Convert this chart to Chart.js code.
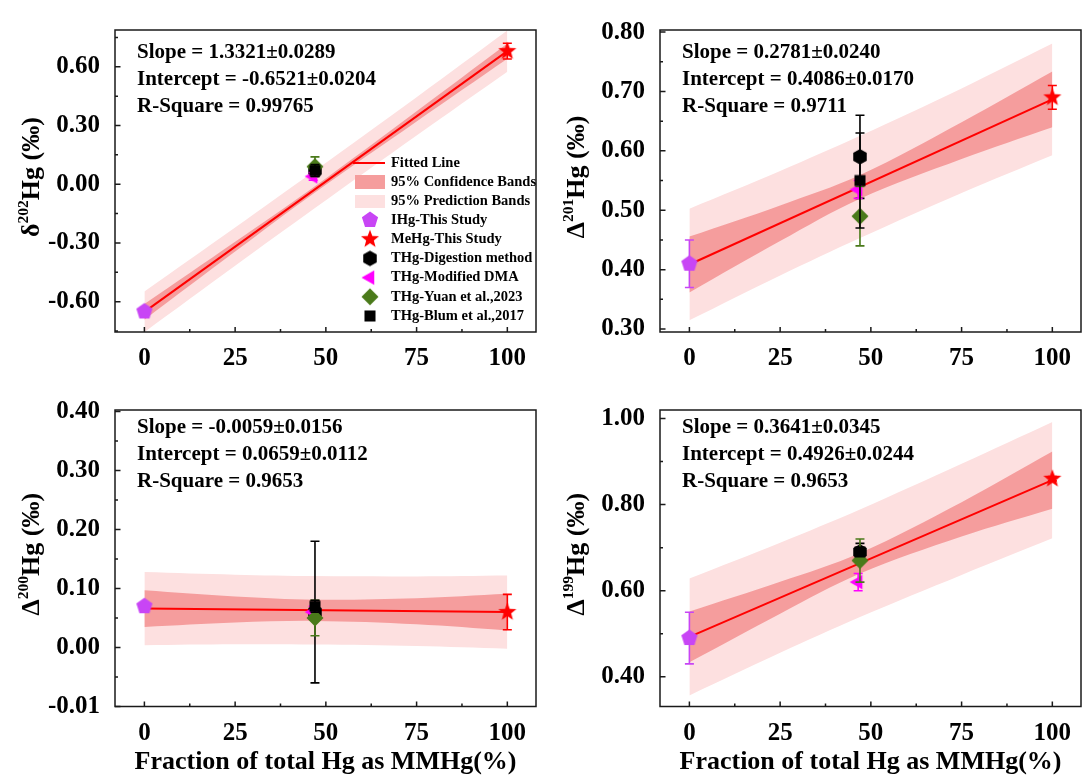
<!DOCTYPE html>
<html>
<head>
<meta charset="utf-8">
<script src="https://cdn.jsdelivr.net/npm/chart.js@4.4.1/dist/chart.umd.min.js"></script>
<style>
html, body { margin: 0; padding: 0; background: #fff; overflow: hidden; }
#wrap { position: relative; width: 1089px; height: 778px; overflow: hidden; }
canvas { position: absolute; }
</style>
</head>
<body>
<div id="wrap">
<canvas id="c202" width="545" height="380" style="left:0;top:0"></canvas>
<canvas id="c201" width="545" height="380" style="left:545px;top:0"></canvas>
<canvas id="c200" width="545" height="398" style="left:0;top:380px"></canvas>
<canvas id="c199" width="545" height="398" style="left:545px;top:380px"></canvas>
</div>
<script>
// shared
const seriesNames = ["IHg-This Study", "MeHg-This Study", "THg-Digestion method",
  "THg-Modified DMA", "THg-Yuan et al.,2023", "THg-Blum et al.,2017"];
const pointX = [0, 100, 47, 46.5, 47, 47];
const xTicks = [0, 25, 50, 75, 100];
const fitX = [0, 100];
const bandX = [0, 25, 47, 75, 100];

// delta 202
const d202Y = [-0.65, 0.68, 0.07, 0.04, 0.09, 0.07];
const d202Err = [0.02, 0.04, 0.03, 0.02, 0.05, 0.03];
const d202Fit = [-0.6521, 0.6800];
const d202ConfHi = [-0.612, -0.294, -0.010, 0.373, 0.719];
const d202ConfLo = [-0.692, -0.344, -0.042, 0.321, 0.641];
const d202PredHi = [-0.548, -0.221, 0.070, 0.445, 0.785];
const d202PredLo = [-0.756, -0.417, -0.122, 0.249, 0.575];
const d202Ticks = [-0.6, -0.3, 0, 0.3, 0.6];
const d202Labels = ["-0.60", "-0.30", "0.00", "0.30", "0.60"];
const d202Stats = ["Slope = 1.3321\u00b10.0289", "Intercept = -0.6521\u00b10.0204", "R-Square = 0.99765"];

// Delta 201
const D201Y = [0.41, 0.69, 0.59, 0.535, 0.49, 0.55];
const D201Err = [0.04, 0.02, 0.07, 0.015, 0.05, 0.08];
const D201Fit = [0.4086, 0.6867];
const D201ConfHi = [0.4556, 0.5081, 0.5593, 0.6482, 0.7337];
const D201ConfLo = [0.3616, 0.4481, 0.5193, 0.5862, 0.6397];
const D201PredHi = [0.5026, 0.5661, 0.6253, 0.7052, 0.7807];
const D201PredLo = [0.3146, 0.3901, 0.4533, 0.5292, 0.5927];
const D201Ticks = [0.3, 0.4, 0.5, 0.6, 0.7, 0.8];
const D201Labels = ["0.30", "0.40", "0.50", "0.60", "0.70", "0.80"];
const D201Stats = ["Slope = 0.2781\u00b10.0240", "Intercept = 0.4086\u00b10.0170", "R-Square = 0.9711"];

// Delta 200
const D200Y = [0.07, 0.06, 0.06, 0.06, 0.05, 0.07];
const D200Err = [0.005, 0.03, 0.12, 0.01, 0.03, 0.01];
const D200Fit = [0.0659, 0.0600];
const D200ConfHi = [0.0969, 0.0864, 0.0811, 0.0835, 0.0910];
const D200ConfLo = [0.0349, 0.0424, 0.0451, 0.0395, 0.0290];
const D200PredHi = [0.1279, 0.1234, 0.1211, 0.1205, 0.1220];
const D200PredLo = [0.0039, 0.0054, 0.0051, 0.0025, -0.0020];
const D200Ticks = [-0.1, 0, 0.1, 0.2, 0.3, 0.4];
const D200Labels = ["-0.01", "0.00", "0.10", "0.20", "0.30", "0.40"];
const D200Stats = ["Slope = -0.0059\u00b10.0156", "Intercept = 0.0659\u00b10.0112", "R-Square = 0.9653"];

// Delta 199
const D199Y = [0.49, 0.86, 0.69, 0.62, 0.67, 0.69];
const D199Err = [0.06, 0.005, 0.02, 0.02, 0.05, 0.01];
const D199Fit = [0.4926, 0.8567];
const D199ConfHi = [0.5516, 0.6206, 0.6877, 0.8057, 0.9232];
const D199ConfLo = [0.4336, 0.5466, 0.6397, 0.7257, 0.7902];
const D199PredHi = [0.6286, 0.7116, 0.7887, 0.8947, 0.9917];
const D199PredLo = [0.3566, 0.4556, 0.5387, 0.6367, 0.7217];
const D199Ticks = [0.4, 0.6, 0.8, 1.0];
const D199Labels = ["0.40", "0.60", "0.80", "1.00"];
const D199Stats = ["Slope = 0.3641\u00b10.0345", "Intercept = 0.4926\u00b10.0244", "R-Square = 0.9653"];

const FONT = "'Liberation Serif', 'Times New Roman', serif";
const FIT = "#ff0000";
const CONF = "#f59d9d";
const PRED = "#fde0e0";
const colors = ["#c845f5", "#ff0000", "#000000", "#ff00ff", "#4a7a1a", "#000000"];

Chart.defaults.font.family = FONT;
Chart.defaults.font.weight = "bold";
Chart.defaults.color = "#000";

// marker images
function marker(n, r, rot, color, inner) {
  const c = document.createElement("canvas");
  c.width = c.height = 22;
  const g = c.getContext("2d");
  g.translate(11, 11);
  g.beginPath();
  const m = inner ? n * 2 : n;
  for (let k = 0; k < m; k++) {
    const a = rot + k * 2 * Math.PI / m;
    const rr = inner && k % 2 ? inner : r;
    g.lineTo(rr * Math.cos(a), rr * Math.sin(a));
  }
  g.closePath();
  g.fillStyle = color;
  g.fill();
  return c;
}
const markers = [
  marker(5, 8.5, -Math.PI / 2, colors[0]),
  marker(5, 9.5, -Math.PI / 2, colors[1], 4),
  marker(6, 7.8, -Math.PI / 2, colors[2]),
  marker(3, 8.5, Math.PI, colors[3]),
  marker(4, 8.5, -Math.PI / 2, colors[4]),
  marker(4, 7.8, Math.PI / 4, colors[5])
];

const pts = (xs, ys) => xs.map((x, i) => ({ x: x, y: ys[i] }));

const errorBars = {
  id: "errorBars",
  beforeDatasetDraw(chart, args) {
    const ds = chart.data.datasets[args.index];
    if (!ds.errors) return;
    const ctx = chart.ctx, ys = chart.scales.y;
    ctx.save();
    ctx.strokeStyle = ds.errColor;
    ctx.lineWidth = 1.6;
    args.meta.data.forEach((pt, i) => {
      const v = ds.data[i].y, e = ds.errors[i];
      const t = ys.getPixelForValue(v + e), b = ys.getPixelForValue(v - e);
      ctx.beginPath();
      ctx.moveTo(pt.x, t); ctx.lineTo(pt.x, b);
      ctx.moveTo(pt.x - 4.5, t); ctx.lineTo(pt.x + 4.5, t);
      ctx.moveTo(pt.x - 4.5, b); ctx.lineTo(pt.x + 4.5, b);
      ctx.stroke();
    });
    ctx.restore();
  }
};

function minorOf(ticks, min, max) {
  const st = ticks[1] - ticks[0], out = [];
  for (let i = -1; i < ticks.length; i++) {
    const m = ticks[0] + (i + 0.5) * st;
    if (m >= min && m <= max) out.push(m);
  }
  return out;
}

function drawLegend(ctx) {
  ctx.font = "bold 14.5px " + FONT;
  ctx.textBaseline = "middle";
  ctx.textAlign = "left";
  ctx.fillStyle = "#000";
  ctx.strokeStyle = FIT;
  ctx.lineWidth = 2;
  ctx.beginPath(); ctx.moveTo(353, 163); ctx.lineTo(385, 163); ctx.stroke();
  ctx.fillText("Fitted Line", 391, 163);
  ctx.fillStyle = CONF; ctx.fillRect(355, 175, 30, 14);
  ctx.fillStyle = PRED; ctx.fillRect(355, 195, 30, 13);
  ctx.fillStyle = "#000";
  ctx.fillText("95% Confidence Bands", 391, 182);
  ctx.fillText("95% Prediction Bands", 391, 201);
  seriesNames.forEach((n, i) => {
    const y = 220 + i * 19.2, im = markers[i];
    ctx.drawImage(im, 370 - im.width / 2, y - im.height / 2);
    ctx.fillText(n, 391, y);
  });
}

function decor(p) {
  return {
    id: "decor",
    afterDraw(chart) {
      const { ctx, chartArea: a, scales: { x, y } } = chart;
      ctx.save();
      ctx.strokeStyle = "#1a1a1a";
      ctx.lineWidth = 1.5;
      ctx.strokeRect(a.left, a.top, a.right - a.left, a.bottom - a.top);
      ctx.beginPath();
      xTicks.forEach(v => { const px = x.getPixelForValue(v); ctx.moveTo(px, a.bottom); ctx.lineTo(px, a.bottom - 5); });
      minorOf(xTicks, x.min, x.max).forEach(v => { const px = x.getPixelForValue(v); ctx.moveTo(px, a.bottom); ctx.lineTo(px, a.bottom - 3); });
      p.ticks.forEach(v => { const py = y.getPixelForValue(v); ctx.moveTo(a.left, py); ctx.lineTo(a.left + 5.5, py); });
      minorOf(p.ticks, y.min, y.max).forEach(v => { const py = y.getPixelForValue(v); ctx.moveTo(a.left, py); ctx.lineTo(a.left + 3, py); });
      ctx.stroke();

      // y title with superscript
      ctx.fillStyle = "#000";
      ctx.translate(30, (a.top + a.bottom) / 2 - 4);
      ctx.rotate(-Math.PI / 2);
      const big = "bold 26px " + FONT, small = "bold 15.5px " + FONT;
      ctx.font = big;
      const w1 = ctx.measureText(p.sym).width, w3 = ctx.measureText("Hg (\u2030)").width;
      ctx.font = small;
      const w2 = ctx.measureText(p.sup).width;
      let tx = -(w1 + w2 + w3) / 2;
      ctx.textBaseline = "alphabetic";
      ctx.font = big; ctx.fillText(p.sym, tx, 9); tx += w1;
      ctx.font = small; ctx.fillText(p.sup, tx, -2.5); tx += w2;
      ctx.font = big; ctx.fillText("Hg (\u2030)", tx, 9);
      ctx.setTransform(1, 0, 0, 1, 0, 0);

      ctx.font = "bold 21px " + FONT;
      ctx.textBaseline = "middle";
      p.stats.forEach((s, i) => ctx.fillText(s, 137, p.statY + i * 27));
      if (p.legend) drawLegend(ctx);
      ctx.restore();
    }
  };
}

function makePanel(id, p) {
  const datasets = [
    { type: "line", data: pts(bandX, p.predHi), fill: "+1", backgroundColor: PRED, borderColor: "transparent", borderWidth: 0, pointRadius: 0, tension: 0.35, order: 10 },
    { type: "line", data: pts(bandX, p.predLo), fill: false, borderColor: "transparent", borderWidth: 0, pointRadius: 0, tension: 0.35, order: 10 },
    { type: "line", data: pts(bandX, p.confHi), fill: "+1", backgroundColor: CONF, borderColor: "transparent", borderWidth: 0, pointRadius: 0, tension: 0.35, order: 9 },
    { type: "line", data: pts(bandX, p.confLo), fill: false, borderColor: "transparent", borderWidth: 0, pointRadius: 0, tension: 0.35, order: 9 },
    { type: "line", data: pts(fitX, p.fit), fill: false, borderColor: FIT, borderWidth: 2, pointRadius: 0, order: 8 }
  ];
  seriesNames.forEach((n, i) => datasets.push({
    type: "scatter", label: n, data: [{ x: pointX[i], y: p.y[i] }], errors: [p.err[i]],
    errColor: colors[i], pointStyle: markers[i], pointRadius: 8, order: 6 - i
  }));
  new Chart(document.getElementById(id), {
    type: "scatter",
    data: { datasets: datasets },
    options: {
      responsive: false,
      animation: false,
      events: [],
      layout: { padding: { left: 0, top: p.top, right: 0, bottom: 0 } },
      plugins: { legend: { display: false }, tooltip: { enabled: false } },
      scales: {
        x: {
          type: "linear", min: -8.1, max: 107.9,
          afterBuildTicks: s => { s.ticks = xTicks.map(v => ({ value: v })); },
          afterFit: s => { s.height = p.xh; },
          grid: { display: false, drawTicks: false },
          border: { display: false },
          ticks: { font: { size: 25, weight: "bold" }, color: "#000", padding: 12, maxRotation: 0, autoSkip: false },
          title: { display: p.xTitle, text: "Fraction of total Hg as MMHg(%)", color: "#000",
            font: { size: 26, weight: "bold", lineHeight: 1 }, padding: { top: 3, bottom: 3 } }
        },
        y: {
          type: "linear", min: p.min, max: p.max,
          afterBuildTicks: s => { s.ticks = p.ticks.map(v => ({ value: v })); },
          afterFit: s => { s.width = 115; },
          grid: { display: false, drawTicks: false },
          border: { display: false },
          ticks: { font: { size: 25, weight: "bold" }, color: "#000", padding: 15, autoSkip: false,
            callback: (v, i) => p.labels[i] }
        }
      }
    },
    plugins: [errorBars, decor(p)]
  });
}

makePanel("c202", { y: d202Y, err: d202Err, fit: d202Fit, confHi: d202ConfHi, confLo: d202ConfLo,
  predHi: d202PredHi, predLo: d202PredLo, ticks: d202Ticks, labels: d202Labels, stats: d202Stats,
  min: -0.755, max: 0.788, top: 16.5, xh: 48, statY: 53, sym: "\u03b4", sup: "202", legend: true, xTitle: false });
makePanel("c201", { y: D201Y, err: D201Err, fit: D201Fit, confHi: D201ConfHi, confLo: D201ConfLo,
  predHi: D201PredHi, predLo: D201PredLo, ticks: D201Ticks, labels: D201Labels, stats: D201Stats,
  min: 0.295, max: 0.8035, top: 16.5, xh: 48, statY: 53, sym: "\u0394", sup: "201", legend: false, xTitle: false });
makePanel("c200", { y: D200Y, err: D200Err, fit: D200Fit, confHi: D200ConfHi, confLo: D200ConfLo,
  predHi: D200PredHi, predLo: D200PredLo, ticks: D200Ticks, labels: D200Labels, stats: D200Stats,
  min: -0.1, max: 0.4025, top: 11.7, xh: 71.5, statY: 48, sym: "\u0394", sup: "200", legend: false, xTitle: true });
makePanel("c199", { y: D199Y, err: D199Err, fit: D199Fit, confHi: D199ConfHi, confLo: D199ConfLo,
  predHi: D199PredHi, predLo: D199PredLo, ticks: D199Ticks, labels: D199Labels, stats: D199Stats,
  min: 0.331, max: 1.0197, top: 11.7, xh: 71.5, statY: 48, sym: "\u0394", sup: "199", legend: false, xTitle: true });
</script>
</body>
</html>
